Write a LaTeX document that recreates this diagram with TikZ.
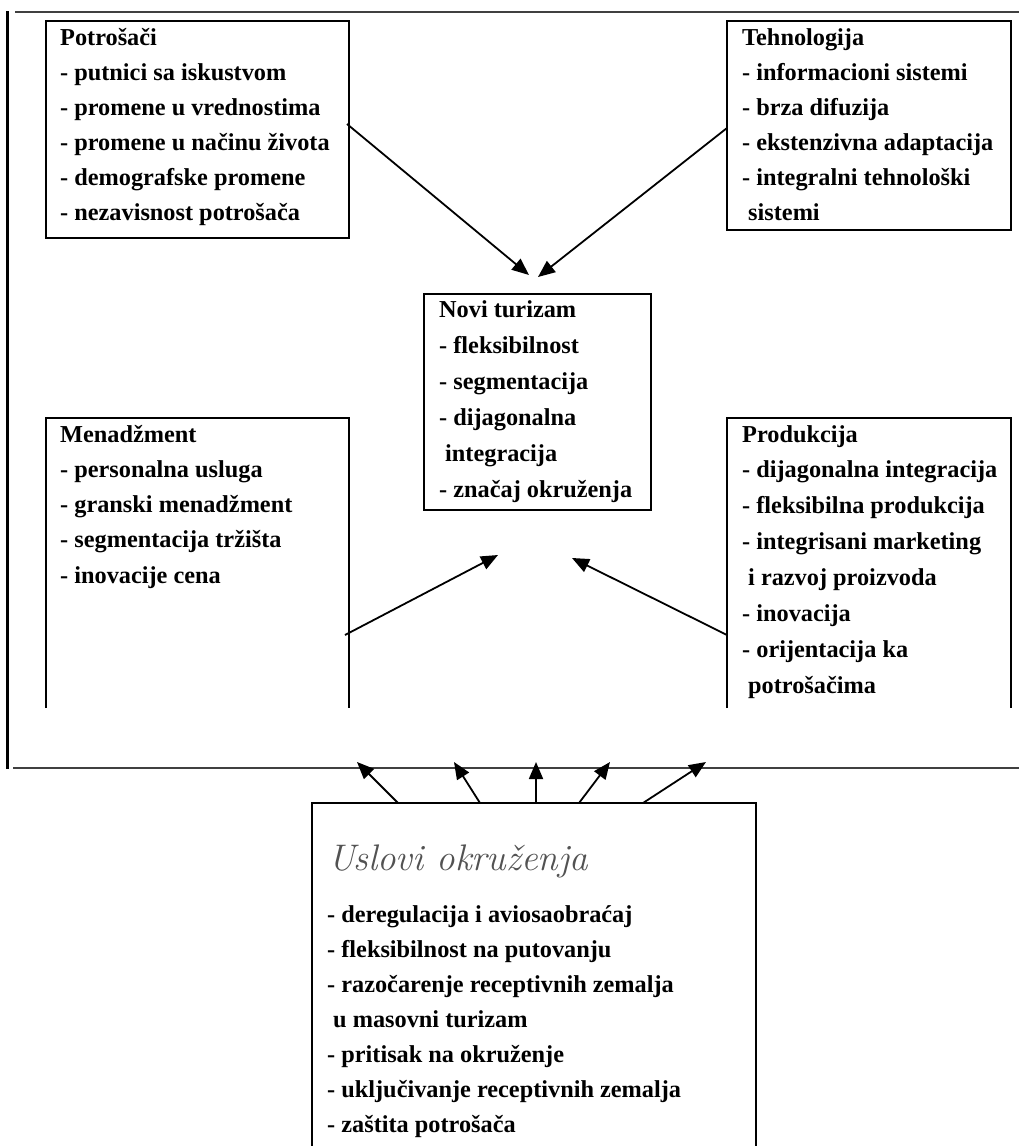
\documentclass[tikz,border=0pt]{standalone}
\usepackage{fontspec}
\newfontfamily\tnr{Liberation Serif}
\usetikzlibrary{arrows.meta}

% bold Times-like list text with a given baseline distance
\newcommand\listtext[2]{\parbox[t]{420pt}{\raggedright\tnr\bfseries\fontsize{24.3}{#1}\selectfont #2}}
\newcommand\ind{\hspace*{6pt}}

\begin{document}
\begin{tikzpicture}[x=1pt,y=-1pt,
  frame/.style={line width=2.2pt,black},
  rule/.style={line width=2.2pt,black!75},
  area/.style={inner sep=0pt,outer sep=0pt,anchor=north west},
  closedbox/.style={area,draw,line width=2.2pt},
  txt/.style={inner sep=0pt,anchor=base west},
  link/.style={line width=1.8pt,-{Triangle[length=17pt,width=14pt]}}
]
\useasboundingbox (0,0) rectangle (1019,1146);

% outer frame: left side, top and bottom rules
\coordinate (fr-tl) at (7.5,11);
\coordinate (fr-bl) at (7.5,769);
\coordinate (top-l) at (15,12);
\coordinate (top-r) at (1019,12);
\coordinate (bot-l) at (13,768);
\coordinate (bot-r) at (1019,768);
\draw[frame] (fr-tl) -- (fr-bl);
\draw[rule] (top-l) -- (top-r);
\draw[rule] (bot-l) -- (bot-r);

% closed boxes
\node[closedbox,minimum width=303pt,minimum height=217pt] (potr) at (46,21) {};
\node[closedbox,minimum width=284pt,minimum height=209pt] (tech) at (727,21) {};
\node[closedbox,minimum width=227pt,minimum height=216pt] (novi) at (424,294) {};

% boxes open at the bottom
\node[area,minimum width=303pt,minimum height=290pt] (mgmt) at (46,418) {};
\node[area,minimum width=284pt,minimum height=290pt] (prod) at (727,418) {};
\node[area,minimum width=444pt,minimum height=345pt] (uslo) at (312,803) {};
\foreach \b in {mgmt,prod,uslo}
  \draw[line width=2.2pt] (\b.south west) -- (\b.north west) -- (\b.north east) -- (\b.south east);

% box texts
\node[txt] (potr-t) at (60,45) {\listtext{35pt}{Potrošači\\
- putnici sa iskustvom\\
- promene u vrednostima\\
- promene u načinu života\\
- demografske promene\\
- nezavisnost potrošača}};

\node[txt] (tech-t) at (742,45) {\listtext{35pt}{Tehnologija\\
- informacioni sistemi\\
- brza difuzija\\
- ekstenzivna adaptacija\\
- integralni tehnološki\\
\ind sistemi}};

\node[txt] (novi-t) at (439,317) {\listtext{36pt}{Novi turizam\\
- fleksibilnost\\
- segmentacija\\
- dijagonalna\\
\ind integracija\\
- značaj okruženja}};

\node[txt] (mgmt-t) at (60,442) {\listtext{35.3pt}{Menadžment\\
- personalna usluga\\
- granski menadžment\\
- segmentacija tržišta\\
- inovacije cena}};

\node[txt] (prod-t) at (742,442) {\listtext{35.9pt}{Produkcija\\
- dijagonalna integracija\\
- fleksibilna produkcija\\
- integrisani marketing\\
\ind i razvoj proizvoda\\
- inovacija\\
- orijentacija ka\\
\ind potrošačima}};

\node[txt,font=\fontsize{37}{42}\selectfont\itshape,text=black!68] (uslo-h) at (328,870) {Uslovi okruženja};

\node[txt] (uslo-t) at (327,922) {\listtext{35pt}{- deregulacija i aviosaobraćaj\\
- fleksibilnost na putovanju\\
- razočarenje receptivnih zemalja\\
\ind u masovni turizam\\
- pritisak na okruženje\\
- uključivanje receptivnih zemalja\\
- zaštita potrošača}};

% arrows into the centre
\coordinate (potr-out) at (347,124);
\coordinate (tech-out) at (727,128);
\coordinate (mgmt-out) at (345,635);
\coordinate (prod-out) at (727,635);
\coordinate (in-a) at (529,275);
\coordinate (in-b) at (538,277);
\coordinate (in-c) at (498,555);
\coordinate (in-d) at (572,558);
\draw[link] (potr-out) -- (in-a);
\draw[link] (tech-out) -- (in-b);
\draw[link] (mgmt-out) -- (in-c);
\draw[link] (prod-out) -- (in-d);

% arrows from the environment box up to the frame
\foreach \i/\sx/\tx in {1/398/357, 2/480/454, 3/536/536, 4/579/610, 5/643/706} {
  \coordinate (u-out-\i) at (\sx,803);
  \coordinate (u-in-\i) at (\tx,762);
  \draw[link] (u-out-\i) -- (u-in-\i);
}
\end{tikzpicture}
\end{document}
